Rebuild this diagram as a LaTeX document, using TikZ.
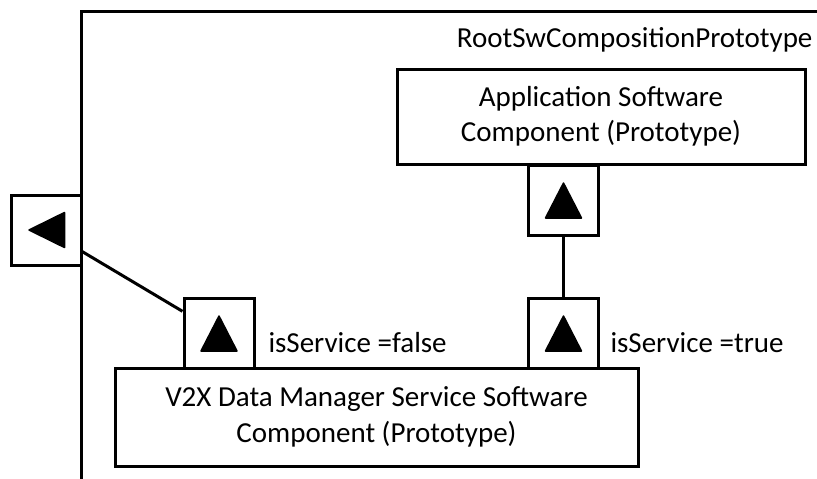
\documentclass[tikz,border=0pt]{standalone}
\usepackage{fontspec}
\setmainfont{Carlito}
\begin{document}
\begin{tikzpicture}[x=1pt,y=-1pt, line width=3pt,
  every node/.style={font=\fontsize{29}{35.4}\selectfont},
  port/.style={draw, fill=white, minimum width=70pt, minimum height=70pt, inner sep=0pt},
  comp/.style={draw, fill=white, inner sep=0pt, align=center},
  lbl/.style={inner sep=0pt},
  tri/.style={fill=black, draw=black, line width=1.5pt, line join=round}]
\useasboundingbox (0,0) rectangle (817,479);
% outer composition frame
\coordinate (fb) at (81,482);
\coordinate (fc) at (81,11);
\coordinate (fr) at (822,11);
\draw[line join=miter] (fb) -- (fc) -- (fr);
\node[lbl, anchor=base east] (root) at (814,47) {RootSwCompositionPrototype};
% components
\node[comp, minimum width=408pt, minimum height=95pt] (app) at (601,116.5) {Application Software\\Component (Prototype)};
\node[comp, minimum width=523pt, minimum height=98pt] (v2x) at (376.5,417) {V2X Data Manager Service Software\\Component (Prototype)};
% ports
\node[port] (lp) at (46,230) {};
\node[port] (p1) at (219,333) {};
\node[port] (p2) at (563.5,333) {};
\node[port] (p3) at (563.5,200) {};
% port triangles
\filldraw[tri, shift={(lp.center)}] (-17,0) -- (18.5,-17.5) -- (18.5,17.5) -- cycle;
\filldraw[tri, shift={(p1.center)}] (0,-17) -- (18,18) -- (-18,18) -- cycle;
\filldraw[tri, shift={(p2.center)}] (0,-17) -- (18,18) -- (-18,18) -- cycle;
\filldraw[tri, shift={(p3.center)}] (0,-17) -- (18,18) -- (-18,18) -- cycle;
% connectors
\draw (lp) -- (p1);
\draw (p3) -- (p2);
% labels
\node[lbl, anchor=base west] (lf) at (267,352) {isService =false};
\node[lbl, anchor=base west] (lt) at (609,352) {isService =true};
\end{tikzpicture}
\end{document}
